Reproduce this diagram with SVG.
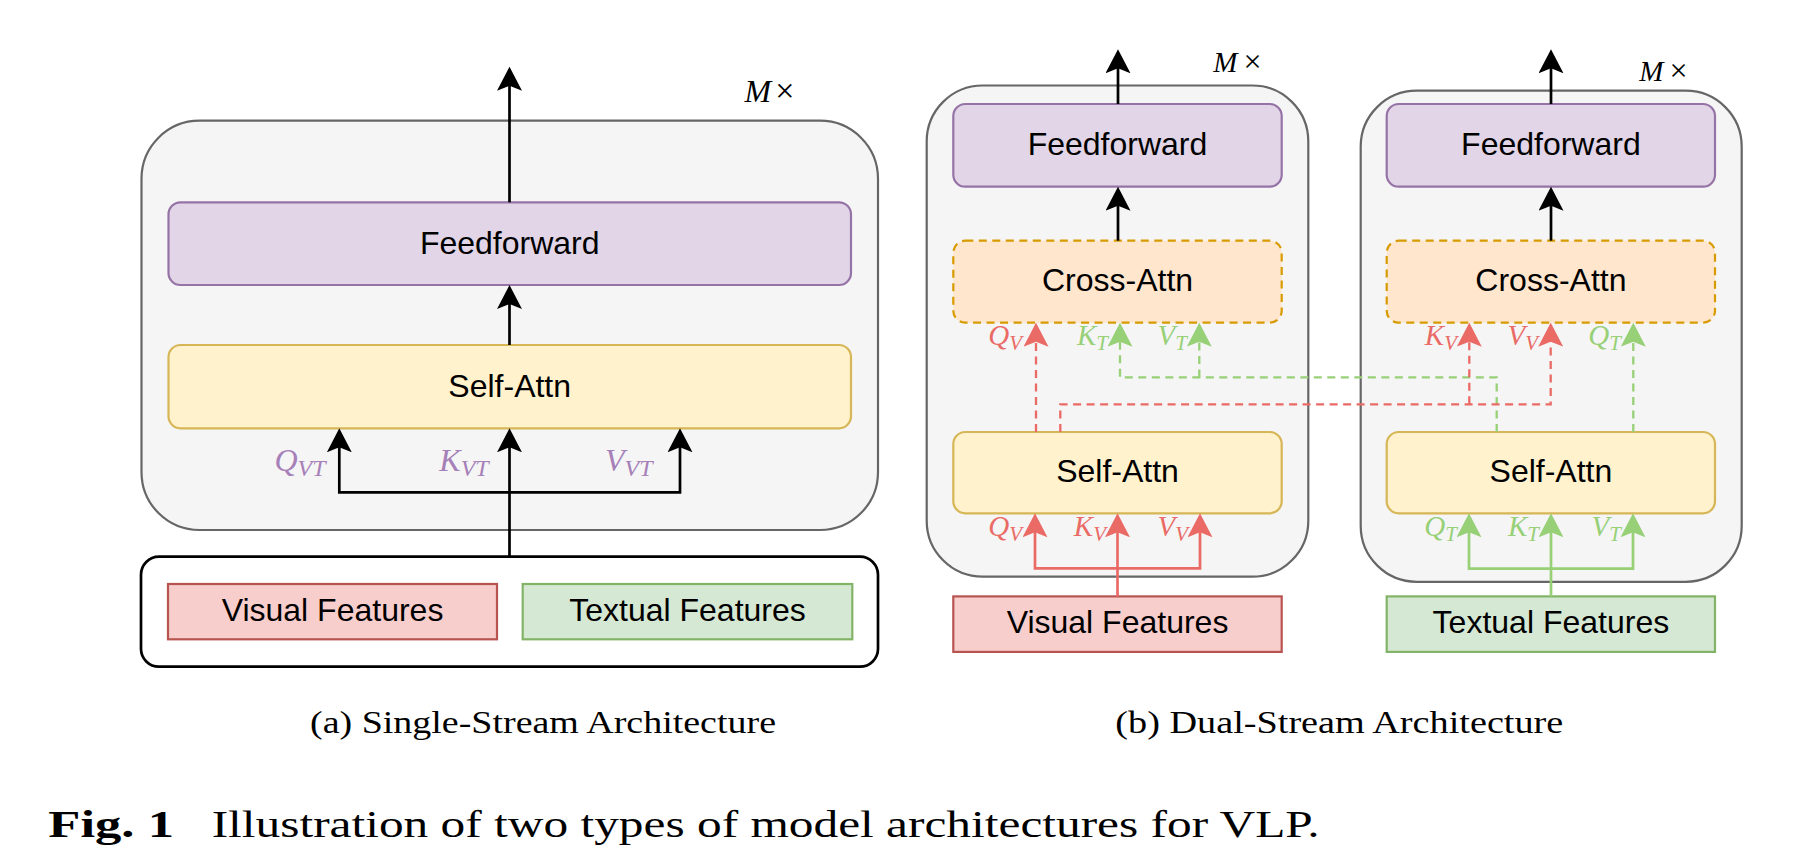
<svg xmlns="http://www.w3.org/2000/svg" width="1816" height="856" viewBox="0 0 1816 856">
<style>
.cont{fill:#f5f5f5;stroke:#666666;stroke-width:2.2}
.ff{fill:#e1d5e7;stroke:#9673a6;stroke-width:2.2}
.sa{fill:#fff2cc;stroke:#d6b656;stroke-width:2.2}
.ca{fill:#ffe6cc;stroke:#d79b00;stroke-width:2.2;stroke-dasharray:8 5.5}
.vf{fill:#f8cecc;stroke:#b85450;stroke-width:2.2}
.tf{fill:#d5e8d4;stroke:#82b366;stroke-width:2.2}
.nt{font-family:"Liberation Sans",Arial,sans-serif;font-size:32px;fill:#000;text-anchor:middle}
.blk{fill:none;stroke:#000;stroke-width:2.7;marker-end:url(#ab)}
.red{fill:none;stroke:#ea6b66;stroke-width:2.7;marker-end:url(#ar)}
.grn{fill:none;stroke:#97d077;stroke-width:2.7;marker-end:url(#ag)}
.dash{stroke-width:2.3;stroke-dasharray:8 5.5}
.ma{font-family:"Liberation Serif","Times New Roman",serif;font-size:32px;font-style:italic}
.mb{font-family:"Liberation Serif","Times New Roman",serif;font-size:29px;font-style:italic}
.pu{fill:#a680b8}.rd{fill:#ea6b66}.gn{fill:#97d077}
.cap{font-family:"Liberation Serif","Times New Roman",serif;fill:#000}
</style>
<defs>
<marker id="ab" markerUnits="userSpaceOnUse" viewBox="0 0 24 25" markerWidth="24" markerHeight="25" refX="5.5" refY="12.5" orient="auto"><path d="M0,0 L24,12.5 L0,25 L5,12.5 Z" fill="#000"/></marker>
<marker id="ar" markerUnits="userSpaceOnUse" viewBox="0 0 24 25" markerWidth="24" markerHeight="25" refX="5.5" refY="12.5" orient="auto"><path d="M0,0 L24,12.5 L0,25 L5,12.5 Z" fill="#ea6b66"/></marker>
<marker id="ag" markerUnits="userSpaceOnUse" viewBox="0 0 24 25" markerWidth="24" markerHeight="25" refX="5.5" refY="12.5" orient="auto"><path d="M0,0 L24,12.5 L0,25 L5,12.5 Z" fill="#97d077"/></marker>
</defs>
<rect width="1816" height="856" fill="#ffffff"/>

<!-- Panel (a) -->
<g id="a-container"><rect class="cont" x="141.5" y="120.7" width="736.5" height="409.3" rx="58"/></g>
<g id="a-mx"><text class="ma" x="744.6" y="101.7" fill="#000">M<tspan font-style="normal" font-size="34" dx="4">×</tspan></text></g>
<g id="a-feedforward"><rect class="ff" x="168.5" y="202.3" width="682.5" height="82.7" rx="12"/><text class="nt" x="509.7" y="253.5">Feedforward</text></g>
<g id="a-selfattn"><rect class="sa" x="168.5" y="345" width="682.5" height="83.3" rx="12"/><text class="nt" x="509.7" y="397">Self-Attn</text></g>
<g id="a-inputs"><rect x="141" y="556.7" width="737" height="110" rx="18" fill="#ffffff" stroke="#000" stroke-width="2.7"/></g>
<g id="a-visual"><rect class="vf" x="168" y="584" width="329" height="55.3"/><text class="nt" x="332.5" y="621">Visual Features</text></g>
<g id="a-textual"><rect class="tf" x="522.7" y="584" width="329.6" height="55.3"/><text class="nt" x="687.5" y="621">Textual Features</text></g>
<g id="a-labels">
<text class="ma pu" x="274.5" y="470.7">Q<tspan font-size="24" dy="5">VT</tspan></text>
<text class="ma pu" x="439.3" y="470.7">K<tspan font-size="24" dy="5">VT</tspan></text>
<text class="ma pu" x="605" y="470.7">V<tspan font-size="24" dy="5">VT</tspan></text>
</g>

<!-- Panel (b) -->
<g id="b-left-container"><rect class="cont" x="926.7" y="85.5" width="381.6" height="491.2" rx="56"/></g>
<g id="b-right-container"><rect class="cont" x="1360.7" y="90.7" width="381" height="491.1" rx="56"/></g>
<g id="b-left-mx"><text class="ma" style="font-size:29px" x="1213.3" y="72.3" fill="#000">M<tspan font-style="normal" font-size="32" dx="6">×</tspan></text></g>
<g id="b-right-mx"><text class="ma" style="font-size:29px" x="1639.3" y="80.7" fill="#000">M<tspan font-style="normal" font-size="32" dx="6">×</tspan></text></g>
<g id="b-left-feedforward"><rect class="ff" x="953.3" y="104" width="328.4" height="82.7" rx="12"/><text class="nt" x="1117.5" y="155">Feedforward</text></g>
<g id="b-left-crossattn"><rect class="ca" x="953.3" y="240.7" width="328.4" height="82" rx="12"/><text class="nt" x="1117.5" y="291">Cross-Attn</text></g>
<g id="b-left-selfattn"><rect class="sa" x="953.3" y="432" width="328.4" height="81.3" rx="12"/><text class="nt" x="1117.5" y="482">Self-Attn</text></g>
<g id="b-visual"><rect class="vf" x="953.3" y="596.4" width="328.4" height="55.5"/><text class="nt" x="1117.5" y="633">Visual Features</text></g>
<g id="b-right-feedforward"><rect class="ff" x="1386.7" y="104" width="328.3" height="82.7" rx="12"/><text class="nt" x="1550.9" y="155">Feedforward</text></g>
<g id="b-right-crossattn"><rect class="ca" x="1386.7" y="240.7" width="328.3" height="82" rx="12"/><text class="nt" x="1550.9" y="291">Cross-Attn</text></g>
<g id="b-right-selfattn"><rect class="sa" x="1386.7" y="432" width="328.3" height="81.3" rx="12"/><text class="nt" x="1550.9" y="482">Self-Attn</text></g>
<g id="b-textual"><rect class="tf" x="1386.7" y="596.4" width="328.3" height="55.5"/><text class="nt" x="1550.9" y="633">Textual Features</text></g>

<g id="connectors">
<path class="blk" d="M509.5,202.3 V85.2"/>
<path class="blk" d="M509.5,345 V303.5"/>
<path class="blk" d="M509.5,556.7 V446.8"/>
<path class="blk" d="M509.5,492.3 H339.3 V446.8"/>
<path class="blk" d="M509.5,492.3 H680 V446.8"/>
<path class="blk" d="M1118,104 V67.8"/>
<path class="blk" d="M1118,240.7 V205.2"/>
<path class="blk" d="M1551,104 V67.8"/>
<path class="blk" d="M1551,240.7 V205.2"/>
<path class="red" d="M1117.5,596.4 V531.8"/>
<path class="red" d="M1117.5,568.3 H1035 V531.8"/>
<path class="red" d="M1117.5,568.3 H1200 V531.8"/>
<path class="grn" d="M1551,596.4 V531.8"/>
<path class="grn" d="M1551,568.7 H1469 V531.8"/>
<path class="grn" d="M1551,568.7 H1633 V531.8"/>
<path class="grn dash" d="M1496.7,432 V377.4 H1120 V341.2"/>
<path class="grn dash" d="M1199.3,377.4 V341.2"/>
<path class="grn dash" d="M1633.3,432 V341.2"/>
<path class="red dash" d="M1036,432 V341.2"/>
<path class="red dash" d="M1060.3,432 V404.3 H1550.7 V341.2"/>
<path class="red dash" d="M1469.3,404.3 V341.2"/>
</g>

<g id="b-labels">
<text class="mb rd" x="1022" y="345" text-anchor="end">Q<tspan font-size="21" dy="5">V</tspan></text>
<text class="mb gn" x="1108" y="345" text-anchor="end">K<tspan font-size="21" dy="5">T</tspan></text>
<text class="mb gn" x="1187" y="345" text-anchor="end">V<tspan font-size="21" dy="5">T</tspan></text>
<text class="mb rd" x="1022" y="536" text-anchor="end">Q<tspan font-size="21" dy="5">V</tspan></text>
<text class="mb rd" x="1106" y="536" text-anchor="end">K<tspan font-size="21" dy="5">V</tspan></text>
<text class="mb rd" x="1188" y="536" text-anchor="end">V<tspan font-size="21" dy="5">V</tspan></text>
<text class="mb rd" x="1457" y="345" text-anchor="end">K<tspan font-size="21" dy="5">V</tspan></text>
<text class="mb rd" x="1538" y="345" text-anchor="end">V<tspan font-size="21" dy="5">V</tspan></text>
<text class="mb gn" x="1621" y="345" text-anchor="end">Q<tspan font-size="21" dy="5">T</tspan></text>
<text class="mb gn" x="1457" y="536" text-anchor="end">Q<tspan font-size="21" dy="5">T</tspan></text>
<text class="mb gn" x="1539" y="536" text-anchor="end">K<tspan font-size="21" dy="5">T</tspan></text>
<text class="mb gn" x="1621" y="536" text-anchor="end">V<tspan font-size="21" dy="5">T</tspan></text>
</g>

<g id="captions">
<text class="cap" x="310" y="732.7" font-size="32" textLength="466" lengthAdjust="spacingAndGlyphs">(a) Single-Stream Architecture</text>
<text class="cap" x="1115.3" y="732.7" font-size="32" textLength="448" lengthAdjust="spacingAndGlyphs">(b) Dual-Stream Architecture</text>
<text class="cap" x="48.3" y="836.7" font-size="37" font-weight="bold" textLength="125.7" lengthAdjust="spacingAndGlyphs">Fig. 1</text>
<text class="cap" x="211.7" y="836.7" font-size="37" textLength="1108" lengthAdjust="spacingAndGlyphs">Illustration of two types of model architectures for VLP.</text>
</g>
</svg>
